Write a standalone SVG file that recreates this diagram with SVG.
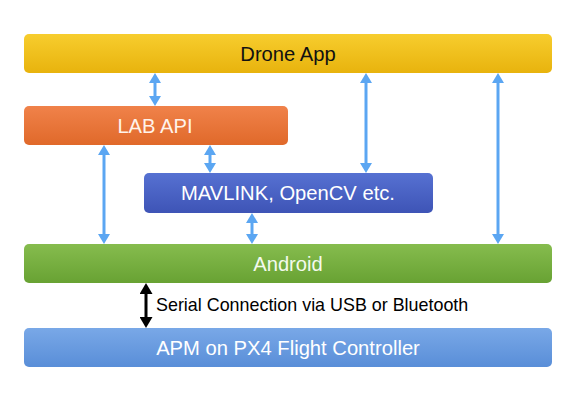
<svg xmlns="http://www.w3.org/2000/svg" width="573" height="412" viewBox="0 0 573 412">
  <defs>
    <linearGradient id="gYellow" x1="0" y1="0" x2="0" y2="1">
      <stop offset="0" stop-color="#f7cd2e"/>
      <stop offset="1" stop-color="#e8b30d"/>
    </linearGradient>
    <linearGradient id="gOrange" x1="0" y1="0" x2="0" y2="1">
      <stop offset="0" stop-color="#f0824a"/>
      <stop offset="1" stop-color="#e0692a"/>
    </linearGradient>
    <linearGradient id="gIndigo" x1="0" y1="0" x2="0" y2="1">
      <stop offset="0" stop-color="#5671d2"/>
      <stop offset="1" stop-color="#3e54b6"/>
    </linearGradient>
    <linearGradient id="gGreen" x1="0" y1="0" x2="0" y2="1">
      <stop offset="0" stop-color="#86bc4e"/>
      <stop offset="1" stop-color="#68a233"/>
    </linearGradient>
    <linearGradient id="gBlue" x1="0" y1="0" x2="0" y2="1">
      <stop offset="0" stop-color="#79a8e7"/>
      <stop offset="1" stop-color="#598ed8"/>
    </linearGradient>
    <marker id="ahBlue" viewBox="0 0 10 12" refX="6" refY="6" markerWidth="10" markerHeight="12" markerUnits="userSpaceOnUse" orient="auto-start-reverse">
      <path d="M0,0 L10,6 L0,12 Z" fill="#5ba6f2"/>
    </marker>
    <marker id="ahBlack" viewBox="0 0 11 13" refX="7" refY="6.5" markerWidth="11" markerHeight="13" markerUnits="userSpaceOnUse" orient="auto-start-reverse">
      <path d="M0,0 L11,6.5 L0,13 Z" fill="#000"/>
    </marker>
  </defs>
  <style>
    .box { stroke: none; }
    .lbl { font-family: "Liberation Sans", Arial, sans-serif; font-size: 20.2px; text-anchor: middle; }
    .blue { stroke: #5ba6f2; stroke-width: 3; fill: none; marker-start: url(#ahBlue); marker-end: url(#ahBlue); }
    .black { stroke: #000; stroke-width: 3; fill: none; marker-start: url(#ahBlack); marker-end: url(#ahBlack); }
    .note { font-family: "Liberation Sans", Arial, sans-serif; font-size: 17.9px; fill: #000; }
  </style>
  <rect width="573" height="412" fill="#ffffff"/>

  <g id="drone-app">
    <rect class="box" x="24" y="34" width="528" height="39" rx="5" fill="url(#gYellow)"/>
    <text class="lbl" x="288" y="61" fill="#111">Drone App</text>
  </g>
  <g id="lab-api">
    <rect class="box" x="24" y="106" width="264" height="39" rx="5" fill="url(#gOrange)"/>
    <text class="lbl" x="155" y="132.5" fill="#fff3ea">LAB API</text>
  </g>
  <g id="mavlink">
    <rect class="box" x="144" y="173" width="289" height="40" rx="5" fill="url(#gIndigo)"/>
    <text class="lbl" x="288" y="200" fill="#ffffff">MAVLINK, OpenCV etc.</text>
  </g>
  <g id="android">
    <rect class="box" x="24" y="244" width="528" height="39" rx="5" fill="url(#gGreen)"/>
    <text class="lbl" x="288" y="271" fill="#f4faee">Android</text>
  </g>
  <g id="apm">
    <rect class="box" x="24" y="328" width="528" height="39" rx="5" fill="url(#gBlue)"/>
    <text class="lbl" x="288" y="355" fill="#ffffff">APM on PX4 Flight Controller</text>
  </g>

  <g id="connectors">
    <line class="blue" x1="155" y1="77" x2="155" y2="102"/>
    <line class="blue" x1="210" y1="149" x2="210" y2="169"/>
    <line class="blue" x1="366" y1="77" x2="366" y2="169"/>
    <line class="blue" x1="104" y1="149" x2="104" y2="240"/>
    <line class="blue" x1="498" y1="77" x2="498" y2="240"/>
    <line class="blue" x1="252" y1="217" x2="252" y2="240"/>
    <line class="black" x1="146" y1="287" x2="146" y2="324"/>
    <text class="note" x="156" y="311">Serial Connection via USB or Bluetooth</text>
  </g>
</svg>
